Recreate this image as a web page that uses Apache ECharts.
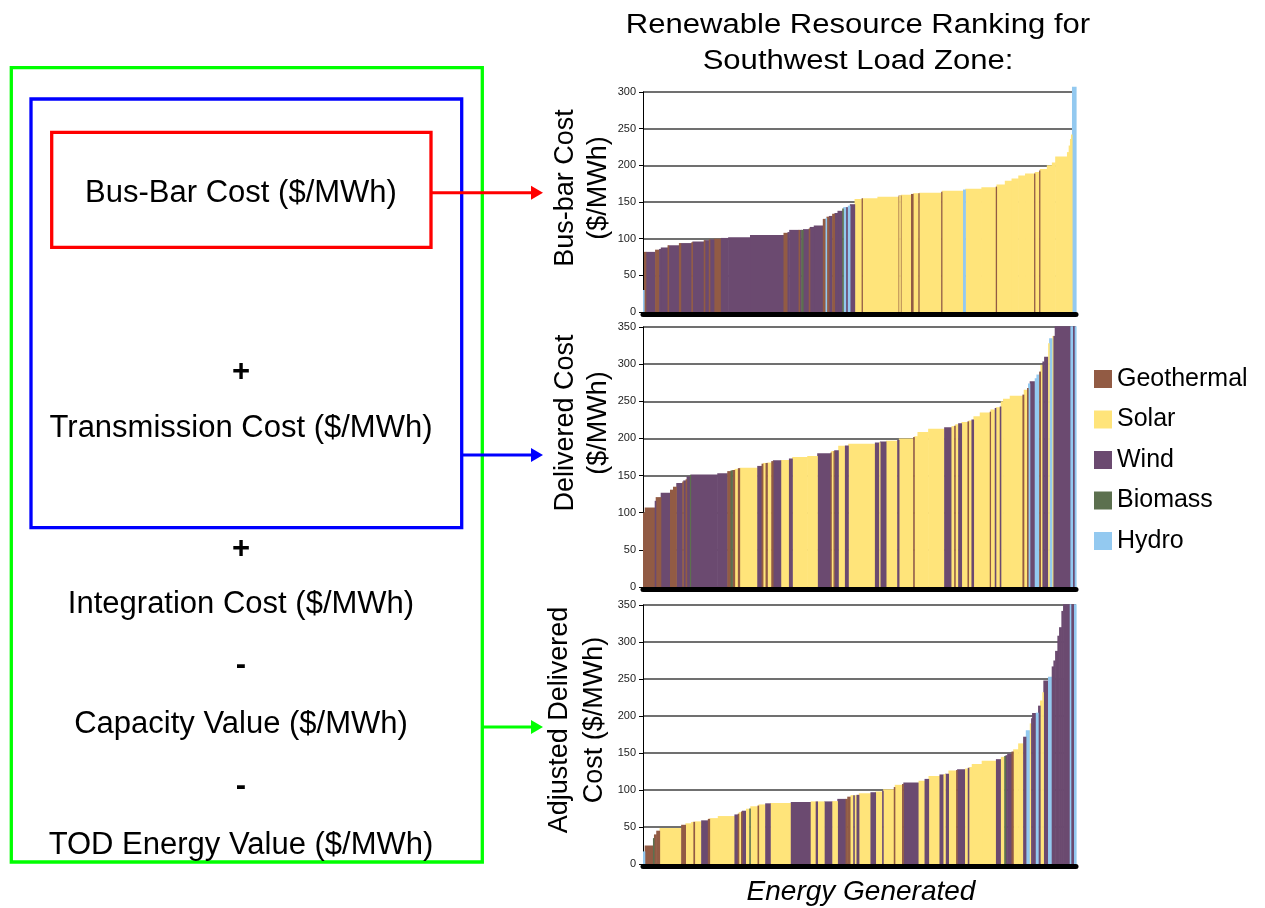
<!DOCTYPE html>
<html>
<head>
<meta charset="utf-8">
<script src="https://cdn.jsdelivr.net/npm/echarts@6/dist/echarts.min.js"></script>
<style>
html,body{margin:0;padding:0;background:#fff;}
#chart{width:1265px;height:908px;}
</style>
</head>
<body>
<div id="chart"></div>
<script>
// ---------- DATA ----------
const resourceTypes = ['Geothermal', 'Solar', 'Wind', 'Biomass', 'Hydro'];
const typeCodes = { G: 'Geothermal', S: 'Solar', W: 'Wind', B: 'Biomass', H: 'Hydro' };

// Panel 1: Bus-bar cost ranking (energy = relative energy generated, cost in $/MWh)
const busbarType = ['H','G','W','G','W','W','G','W','G','W','G','W','G','W','G','W','G','W','W','W','G','W','W','G','W','B','W','G','W','W','G','H','G','W','G','W','W','B','H','W','H','W',
  'S','G','S','S','G','S','G','S','G','S','G','S','G','S','H','S','S','G','S','S','S','S','S','G','S','G','S','S','S','S','S','S','S','S','H'];
const busbarEnergy = [1,1.7,9.3,4,1.7,6.7,1,10.3,1.7,10.7,1,11.3,1,4,1,4,7,7.3,21.7,33.3,4,1.7,9.3,1,1.7,1.7,5.7,1,4,9,2.7,1,2.3,3.3,2.3,3,4.7,1,2.3,2.3,2,4.7,
  7,0.7,15,21,0.7,1,0.7,10,2,5.3,0.7,22,0.7,21,2.3,16,14.3,0.7,8.3,6.7,6.7,6.7,9,0.7,4.3,0.7,7,5,3.3,11.7,1.7,1.3,1,1,4];
const busbarCost = [30,82,82,85,86,88,91,91,94,94,95,96,98,98,99,99,100,101,102,105,108,109,112,112,112,112,113,114,116,118,127,128,130,131,134,135,138,141,143,143,145,147,
  154,155,155,157,159,159,159,160,161,162,162,162.5,164,165.5,167,168,170,171,174,179,182,186,189,189,191,193,195,200,204,212,218,227,236,242,307];

// Panel 2: Delivered cost ranking
const deliveredType = ['G','G','W','G','W','G','G','W','G','W','G','W','B','W','W','G','B','G','S','G','S','W','G','S','G','S','G','W','S','W','S','S','W',
  'G','S','G','W','S','W','S','W','S','W','S','W','S','G','S','S','S','W','S','G','S','W','S','G','S','W','S','S','G','S','W','S','W','S','S','S','G','S','G','H','W','H','H','G','S','W','W','S','H','S','W','W','H','W','H'];
const deliveredEnergy = [1.7,10,1,5,9.3,3,3.3,6,1,2.3,1,3.3,0.7,26.7,10,3.3,1.7,2.3,3.3,1.7,17.7,4.3,1.3,2.7,1.7,4,1.7,7.7,8.3,3.3,15,10,13.3,
  0.7,2.3,0.7,4,6.7,3.3,26.7,4.3,0.7,6,11.3,1.7,14.3,1,3.3,10.7,16,7.3,2.7,1,3,3.3,6,1,3,2,6.3,10,0.7,4.3,1,4,1,2.3,6.7,12.7,1.3,3.3,1,1.7,5,1.7,2.7,1.3,2,1.7,4,1,3.3,1,1.3,15.7,2,2.3,1.3];
const deliveredCost = [100,107,116,121,127,131,135,140,142,143.5,145,149,151,151.6,153,156,157,157.5,159,160,160.6,163,166,167,167,167.5,169.5,170.5,171,173,175,176.5,180,
  181,183,183,184,190,190.6,193,194.6,195,196,197,198,200,202,203,208.5,213,215,216.5,217,219,220.5,222,223,224,225.5,230,235,236,239,241,242,243,250,253.5,257.5,259,265.6,268,274,277,281,286,290,299,303.6,310,328,335,338,338,351,351,351,351];

// Panel 3: Adjusted delivered cost ranking
const adjustedType = ['H','G','B','G','G','S','G','S','S','G','S','W','G','S','S','W','G','S','G','W','S','B','S','G','S','W','S','W','S','W','S','W','S',
  'W','G','G','S','W','S','W','S','W','S','W','S','G','S','G','W','S','W','S','W','S','W','S','G','W','S','W','S','S','S','W','S','B','W','W','G','S','S','W','H','S','W','W','H','W','S','S','W','H','W','W','W','W','W','W','W','H','W','H'];
const adjustedEnergy = [1.7,8.3,1,2.3,3.3,21.7,4.3,5.7,1.7,1.7,6.7,6.7,1.7,8.3,16.7,3.3,1,2.3,1,4,3.3,1,7.3,1,6.7,5,20.7,20,5,1.7,6.7,8.3,5,
  8.3,1.7,3.3,2.7,1,2.3,2.3,11.7,5,6.7,1,10.7,1,7.3,1.3,15.3,6,4,11,4,1.7,3.3,7.7,1,8,2.7,1,3,10,14.3,5,3.3,1.3,1.7,4.3,1.7,5,5,2.7,4,1.3,1,3.7,2.3,2,2.3,1,4.7,3.7,1.7,1.7,2.3,1.7,2.3,1.7,6.7,1,3.3,2];
const adjustedCost = [17,25,35,40,45,48.6,53,55,56.7,57,57.6,59,61,62,64.8,67,68,70,71,72,74.7,75,78,79,80.5,82,82.3,83.7,84.6,84.6,84.6,84.6,85,
  88,88,91,93,93,93,93.5,95.5,97,98,99,101,104,107,108,110,112.5,115,119,121,121.5,122,126.5,127,128,129,130,131,135,139.5,141.7,144.8,146,147,149,152,155,163,172,180.7,190,197,204,204.5,214,221,232,248,253,267,275,288,308.5,320,342,351,351,351,351];

const busbarAxisMax = 300, deliveredAxisMax = 350, adjustedAxisMax = 350, costTickStep = 50;

// ---------- STYLE ----------
const FONT = "'Liberation Sans', Arial, Helvetica, sans-serif";
const typeColors = { Geothermal: '#925B44', Solar: '#FFE47A', Wind: '#6B4A70', Biomass: '#5C704F', Hydro: '#93C9F0' };

function renderBar(params, api) {
  const x0 = api.value(0), x1 = api.value(1), v = api.value(2);
  const a = api.coord([x0, 0]);
  const b = api.coord([x1, v]);
  const w = b[0] - a[0];
  return {
    type: 'rect',
    z2: Math.round(100 - w),
    shape: { x: a[0], y: b[1], width: Math.max(w + 0.6, 1), height: a[1] - b[1] },
    style: { fill: api.visual('color') }
  };
}

function buildPanel(idx, types, energy, cost) {
  let x = 0;
  const byType = {};
  resourceTypes.forEach(t => byType[t] = []);
  for (let i = 0; i < types.length; i++) {
    byType[typeCodes[types[i]]].push([x, x + energy[i], cost[i]]);
    x += energy[i];
  }
  const series = resourceTypes.map(t => ({
    type: 'custom', name: t, xAxisIndex: idx, yAxisIndex: idx,
    renderItem: renderBar, clip: false,
    itemStyle: { color: typeColors[t] },
    encode: { x: [0, 1], y: 2 },
    data: byType[t]
  }));
  return { total: x, series };
}

const p1 = buildPanel(0, busbarType, busbarEnergy, busbarCost);
const p2 = buildPanel(1, deliveredType, deliveredEnergy, deliveredCost);
const p3 = buildPanel(2, adjustedType, adjustedEnergy, adjustedCost);

const grids = [
  { left: 643, width: 433, top: 92, height: 220 },
  { left: 643, width: 433, top: 327, height: 260 },
  { left: 643, width: 433, top: 605, height: 259 }
];

function xAx(i, total) {
  return {
    gridIndex: i, type: 'value', min: 0, max: total, offset: 2,
    axisLine: { show: true, onZero: false, lineStyle: { color: '#000', width: 5 } },
    axisTick: { show: false }, axisLabel: { show: false }, splitLine: { show: false }
  };
}
function yAx(i, max) {
  return {
    gridIndex: i, type: 'value', min: 0, max: max, interval: costTickStep,
    axisLine: { show: true, lineStyle: { color: '#000', width: 1 } },
    axisTick: { show: true, length: 4, lineStyle: { color: '#000' } },
    axisLabel: { fontSize: 11, color: '#222', margin: 7, fontFamily: FONT },
    splitLine: { show: true, lineStyle: { color: '#404040', width: 1.5 } }
  };
}

function txt(x, y, text, opts) {
  return Object.assign({
    type: 'text', x: x, y: y, silent: true,
    style: Object.assign({ text: text, fill: '#000', fontSize: 31, fontFamily: FONT, align: 'center', verticalAlign: 'middle' }, (opts && opts.style) || {})
  }, (opts && opts.el) || {});
}
function rectEl(x0, y0, x1, y1, color) {
  return { type: 'rect', silent: true, shape: { x: x0, y: y0, width: x1 - x0, height: y1 - y0 }, style: { fill: 'none', stroke: color, lineWidth: 3.3 } };
}
function arrow(x0, y, color) {
  return [
    { type: 'line', silent: true, shape: { x1: x0, y1: y, x2: 534, y2: y }, style: { stroke: color, lineWidth: 3 } },
    { type: 'polygon', silent: true, shape: { points: [[531, y - 7], [543, y], [531, y + 7]] }, style: { fill: color } }
  ];
}

const graphics = [
  rectEl(11.3, 67.7, 482.3, 862, '#00FF00'),
  rectEl(31, 99, 461.7, 527.7, '#0000FF'),
  rectEl(51.7, 132.3, 431, 247.3, '#FF0000'),
  ...arrow(431, 192.7, '#FF0000'),
  ...arrow(461.7, 455, '#0000FF'),
  ...arrow(482.3, 727, '#00FF00'),
  txt(241, 193, 'Bus-Bar Cost ($/MWh)'),
  txt(241, 372, '+', { style: { fontWeight: 'bold' } }),
  txt(241, 428, 'Transmission Cost ($/MWh)'),
  txt(241, 549, '+', { style: { fontWeight: 'bold' } }),
  txt(241, 604, 'Integration Cost ($/MWh)'),
  txt(241, 665, '-', { style: { fontWeight: 'bold' } }),
  txt(241, 724, 'Capacity Value ($/MWh)'),
  txt(241, 786, '-', { style: { fontWeight: 'bold' } }),
  txt(241, 845, 'TOD Energy Value ($/MWh)'),
  txt(858, 44, 'Renewable Resource Ranking for\nSouthwest Load Zone:', { style: { fontSize: 27, lineHeight: 36 }, el: { scaleX: 1.15 } }),
  txt(582, 188, 'Bus-bar Cost\n($/MWh)', { style: { fontSize: 27, lineHeight: 33 }, el: { rotation: Math.PI / 2 } }),
  txt(582, 423, 'Delivered Cost\n($/MWh)', { style: { fontSize: 27, lineHeight: 33 }, el: { rotation: Math.PI / 2 } }),
  txt(577, 720, 'Adjusted Delivered\nCost ($/MWh)', { style: { fontSize: 27, lineHeight: 35 }, el: { rotation: Math.PI / 2 } }),
  txt(861, 892, 'Energy Generated', { style: { fontSize: 28, fontStyle: 'italic' } })
];

const option = {
  backgroundColor: '#fff',
  animation: false,
  grid: grids,
  xAxis: [xAx(0, p1.total), xAx(1, p2.total), xAx(2, p3.total)],
  yAxis: [yAx(0, busbarAxisMax), yAx(1, deliveredAxisMax), yAx(2, adjustedAxisMax)],
  legend: {
    data: resourceTypes, orient: 'vertical', left: 1089, top: 361,
    itemWidth: 18, itemHeight: 18, itemGap: 14.5, icon: 'rect',
    textStyle: { fontSize: 25, color: '#000', fontFamily: FONT, lineHeight: 26 }
  },
  graphic: graphics,
  series: [...p1.series, ...p2.series, ...p3.series]
};

const chart = echarts.init(document.getElementById('chart'), null, { renderer: 'canvas' });
chart.setOption(option);
</script>
</body>
</html>
